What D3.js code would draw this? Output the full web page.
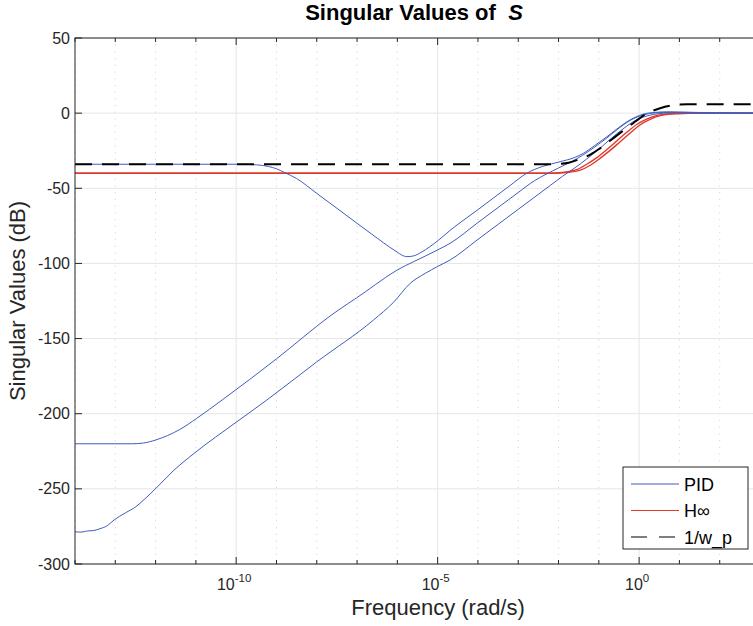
<!DOCTYPE html>
<html><head><meta charset="utf-8">
<script src="https://cdn.jsdelivr.net/npm/d3@7"></script>
<style>body{margin:0;background:#fff} svg{display:block}</style>
</head><body>
<script>
// ---- data (frequency given as log10 of rad/s, magnitude in dB) ----
const yTickValues = [50, 0, -50, -100, -150, -200, -250, -300];
const xMajorExponents = [-10, -5, 0];
const xMinorExponents = [-14,-13,-12,-11,-10,-9,-8,-7,-6,-5,-4,-3,-2,-1,0,1,2,3];
const legendLabels = ["PID", "H\u221E", "1/w_p"];

const pid1LogF = [-14,-10,-9.5,-9.2,-9.0,-8.8,-8.5,-8.0,-7.5,-7.0,-6.5,-6.2,-6.0,-5.9,-5.76,-5.6,-5.4,-5.2,-5.0,-4.69,-4.0,-3.2,-2.79,-2.4,-1.96,-1.6,-1.38,-1.1,-0.8,-0.55,-0.3,-0.1,0.11,0.4,0.68,1.0,1.4,1.93,3];
const pid1Db   = [-34,-34,-34.4,-35.5,-37,-39.5,-43.5,-53.4,-63.3,-73.3,-83.2,-89,-92.5,-94.3,-95.5,-95,-92.5,-89,-85,-78,-64.2,-48.1,-40,-35.5,-32.3,-29.5,-26.7,-21.5,-15.7,-10.5,-5.7,-2.8,-0.6,0.5,0.9,0.8,0.5,0.3,0];

const pid2LogF = [-14,-12.6,-12.3,-12.0,-11.7,-11.4,-10.98,-10.35,-9.0,-7.67,-6.8,-6.3,-6.01,-5.8,-5.6,-5.3,-5.0,-4.69,-4.0,-3.5,-3.0,-2.6,-2.3,-2.0,-1.7,-1.4,-1.1,-0.8,-0.5,-0.2,0.1,0.4,0.8,1.3,2,3];
const pid2Db   = [-220,-220,-219.5,-217.5,-214.5,-210.5,-203.1,-190.9,-163.5,-135,-119,-109.5,-104.5,-101.5,-98.9,-95,-91,-86.6,-72.8,-62.8,-52.8,-45,-40.5,-36.5,-32.5,-28,-22.5,-16.5,-10,-4.5,-1.2,0.2,0.5,0.2,0,0];

const pid3LogF = [-14.02,-13.85,-13.69,-13.55,-13.4,-13.2,-13.03,-12.75,-12.49,-12.28,-11.99,-11.54,-11.04,-9.98,-9.24,-8.0,-6.59,-6.1,-5.68,-5.3,-5.0,-4.69,-4.0,-3.5,-3.0,-2.5,-2.2,-1.9,-1.6,-1.3,-1.0,-0.7,-0.4,-0.1,0.2,0.5,0.9,1.4,2,3];
const pid3Db   = [-278.5,-278.8,-278,-277.8,-276.7,-274.5,-270.7,-266,-261.9,-257,-249.6,-237.5,-226.3,-205.3,-190.9,-165.5,-137.6,-126,-113.2,-106.5,-102,-97.7,-84,-74,-64,-54,-48,-42,-36.5,-30.5,-24,-17,-10.5,-5,-1.8,-0.3,0.3,0.1,0,0];

const hinf1LogF = [-14,-2.2,-1.96,-1.7,-1.46,-1.2,-0.97,-0.72,-0.47,-0.22,0.02,0.27,0.52,0.77,1.02,1.5,3];
const hinf1Db   = [-40,-40,-39.8,-39.2,-37.9,-34.5,-30.1,-24.8,-19,-13.2,-7.9,-4.2,-1.7,-0.6,-0.2,0,0];
const hinf2LogF = [-14,-2.3,-2.05,-1.8,-1.55,-1.3,-1.05,-0.8,-0.55,-0.3,-0.05,0.2,0.45,0.7,0.95,1.45,3];
const hinf2Db   = [-40,-40,-39.8,-39.1,-37.6,-34,-29.6,-24.2,-18.4,-12.6,-7.4,-3.8,-1.5,-0.5,-0.2,0,0];

const wpLogF = [-14,-2.3,-2.0,-1.75,-1.46,-1.2,-0.97,-0.55,-0.2,0.19,0.52,0.85,1.2,1.6,3];
const wpDb   = [-34,-34,-33.8,-33.0,-30.4,-27.4,-23.4,-14.8,-7.7,-0.3,3.3,5.3,5.9,6.0,6.0];

// ---- layout ----
const W = 753, H = 626;
const m = {left: 75, right: 760, top: 38, bottom: 564};
const blue = "#3f5cbd", red = "#e0392b";

const svg = d3.select("body").append("svg").attr("width", W).attr("height", H)
  .style("font-family", "Helvetica, 'Liberation Sans', Arial, sans-serif");

const x = d3.scaleLog().domain([1e-14, 1e3]).range([m.left, m.right]);
const y = d3.scaleLinear().domain([-300, 50]).range([m.bottom, m.top]);

svg.append("defs").append("clipPath").attr("id", "clip")
  .append("rect").attr("x", m.left).attr("y", m.top)
  .attr("width", m.right - m.left).attr("height", m.bottom - m.top);

// grid
const grid = svg.append("g");
grid.selectAll(".gxm").data(xMinorExponents.filter(e => !xMajorExponents.includes(e)))
  .join("line").attr("x1", e => x(10 ** e)).attr("x2", e => x(10 ** e))
  .attr("y1", m.top).attr("y2", m.bottom)
  .attr("stroke", "#d6d6d6").attr("stroke-width", 1).attr("stroke-dasharray", "1.2,5.5");
grid.selectAll(".gxM").data(xMajorExponents)
  .join("line").attr("x1", e => x(10 ** e)).attr("x2", e => x(10 ** e))
  .attr("y1", m.top).attr("y2", m.bottom)
  .attr("stroke", "#e6e6e6").attr("stroke-width", 1);
grid.selectAll(".gy").data(yTickValues)
  .join("line").attr("x1", m.left).attr("x2", m.right)
  .attr("y1", d => y(d)).attr("y2", d => y(d))
  .attr("stroke", "#e6e6e6").attr("stroke-width", 1);

// curves
const line = d3.line().x(d => x(10 ** d[0])).y(d => y(d[1])).curve(d3.curveMonotoneX);
const zipS = (a, b) => a.map((v, i) => [v, b[i]]);
const plot = svg.append("g").attr("clip-path", "url(#clip)");
const series = [
  {f: hinf2LogF, v: hinf2Db, c: red, w: 1.4, dash: null},
  {f: hinf1LogF, v: hinf1Db, c: red, w: 1.4, dash: null},
  {f: pid1LogF, v: pid1Db, c: blue, w: 1, dash: null},
  {f: pid2LogF, v: pid2Db, c: blue, w: 1, dash: null},
  {f: pid3LogF, v: pid3Db, c: blue, w: 1, dash: null},
  {f: wpLogF, v: wpDb, c: "#000", w: 2, dash: "17,10"}
];
series.forEach(s => {
  plot.append("path").datum(zipS(s.f, s.v)).attr("d", line)
    .attr("fill", "none").attr("stroke", s.c).attr("stroke-width", s.w)
    .attr("stroke-dasharray", s.dash);
});

// axes frame
const ax = svg.append("g").attr("stroke", "#262626").attr("stroke-width", 1);
ax.append("rect").attr("x", m.left).attr("y", m.top).attr("width", m.right - m.left)
  .attr("height", m.bottom - m.top).attr("fill", "none");
xMinorExponents.forEach(e => {
  const len = xMajorExponents.includes(e) ? 7 : 4;
  const px = x(10 ** e);
  ax.append("line").attr("x1", px).attr("x2", px).attr("y1", m.bottom).attr("y2", m.bottom - len);
  ax.append("line").attr("x1", px).attr("x2", px).attr("y1", m.top).attr("y2", m.top + len);
});
yTickValues.forEach(v => {
  ax.append("line").attr("x1", m.left).attr("x2", m.left + 7).attr("y1", y(v)).attr("y2", y(v));
  ax.append("line").attr("x1", m.right).attr("x2", m.right - 7).attr("y1", y(v)).attr("y2", y(v));
});

// tick labels
svg.selectAll(".yl").data(yTickValues).join("text")
  .attr("x", m.left - 5).attr("y", d => y(d) + 5.5).attr("text-anchor", "end")
  .attr("font-size", 16).attr("fill", "#262626").text(d => d);
xMajorExponents.forEach(e => {
  const t = svg.append("text").attr("x", x(10 ** e) - 2).attr("y", 590)
    .attr("text-anchor", "middle").attr("font-size", 16).attr("fill", "#262626");
  t.append("tspan").text("10");
  t.append("tspan").attr("dy", -8).attr("font-size", 11.5).text(e);
});

// labels
svg.append("text").attr("x", 438).attr("y", 615).attr("text-anchor", "middle")
  .attr("font-size", 22).attr("fill", "#262626").text("Frequency (rad/s)");
svg.append("text").attr("transform", `translate(25,${(m.top + m.bottom) / 2}) rotate(-90)`)
  .attr("text-anchor", "middle").attr("font-size", 22).attr("fill", "#262626")
  .text("Singular Values (dB)");
const title = svg.append("text").attr("x", 414).attr("y", 20)
  .attr("text-anchor", "middle").attr("font-size", 22).attr("font-weight", "bold").attr("fill", "#000");
title.append("tspan").text("Singular Values of \u00A0");
title.append("tspan").attr("font-style", "italic").text("S");

// legend
const lg = svg.append("g");
lg.append("rect").attr("x", 623).attr("y", 467).attr("width", 125).attr("height", 82)
  .attr("fill", "#fff").attr("stroke", "#262626").attr("stroke-width", 1);
const lgStyles = [{c: blue, w: 1, dash: null}, {c: red, w: 1, dash: null}, {c: "#000", w: 1.2, dash: "16,12"}];
legendLabels.forEach((lab, i) => {
  const ly = 484 + i * 26.5;
  lg.append("line").attr("x1", 631).attr("x2", 679).attr("y1", ly).attr("y2", ly)
    .attr("stroke", lgStyles[i].c).attr("stroke-width", lgStyles[i].w)
    .attr("stroke-dasharray", lgStyles[i].dash);
  lg.append("text").attr("x", 684).attr("y", ly + 6.5).attr("font-size", 18).attr("fill", "#000").text(lab);
});
</script>
</body></html>
